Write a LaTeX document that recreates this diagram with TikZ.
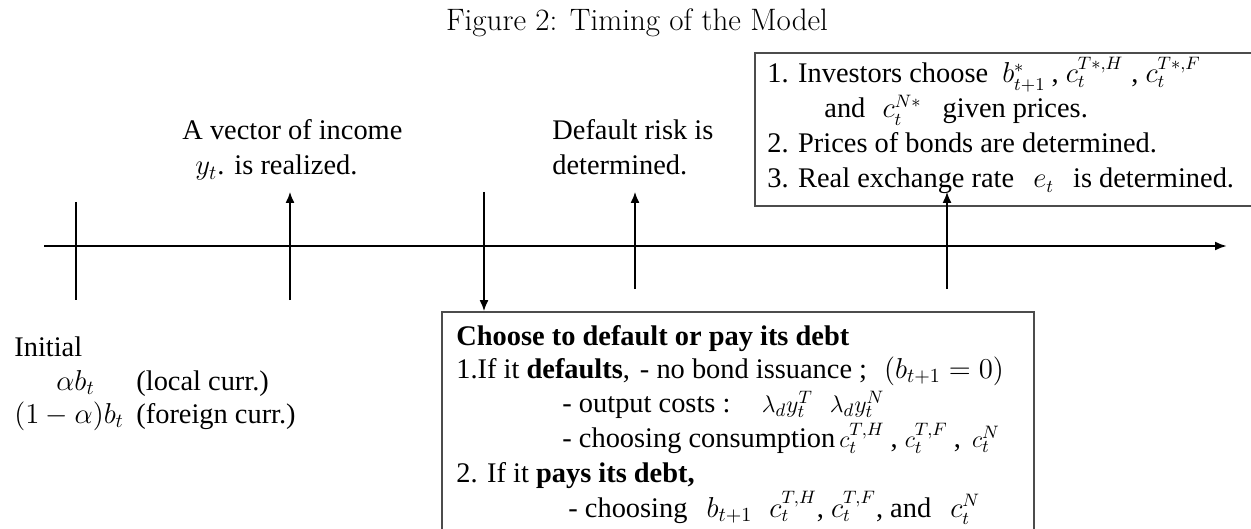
\documentclass[tikz,border=0pt]{standalone}
\usepackage{fontspec}
\newfontfamily\tnr{Liberation Serif}
\newcommand\formel[2][14.2]{{\fontsize{#1}{16}\selectfont$#2$}}
\newcommand\flach[1]{\smash{\formel[12.5]{#1}}}
\usetikzlibrary{arrows.meta}
\usetikzlibrary{positioning}
\tikzset{
	>={Latex[length=5.5pt,width=4.5pt]},
	zeitachse/.style={draw, line width=1.1pt, -{Latex[length=6pt,width=4.5pt]}},
	marke/.style={draw, line width=0.65pt},
	pfeil/.style={draw, line width=0.65pt, ->},
	kasten/.style={
		rectangle,
		draw=black!70, line width=0.9pt,
		anchor=north west,
		inner sep=0pt},
	zeile/.style={
		anchor=base west,
		inner sep=0pt,
		font=\tnr\fontsize{14.2}{17}\selectfont},
}

\begin{document}
\begin{tikzpicture}
	 		[x=0.5pt, y=-0.5pt]
	 		\useasboundingbox (0,0) rectangle (1251,529);
	 		\node[font=\fontsize{15.5}{18}\selectfont, anchor=base] (titel) at (637,31) {Figure 2: Timing of the Model};
	 		% boxes
	 		\node[kasten, minimum width=251pt, minimum height=76.5pt] (investoren) at (754,52) {};
	 		\node[kasten, minimum width=296pt, minimum height=115pt] (wahl) at (441,311) {};
	 		% axis and marks
	 		\coordinate (achsanfang) at (44,246);
	 		\coordinate (achsende) at (1227,246);
	 		\coordinate (start0) at (76,202);
	 		\coordinate (start1) at (76,300);
	 		\coordinate (einkommen0) at (290,300);
	 		\coordinate (einkommen1) at (290,192);
	 		\coordinate (wahl0) at (484,192);
	 		\coordinate (wahl1) at (484,311);
	 		\coordinate (risiko0) at (635,289);
	 		\coordinate (risiko1) at (635,192);
	 		\coordinate (preise0) at (947,289);
	 		\coordinate (preise1) at (947,192);
	 		\draw[zeitachse] (achsanfang) -- (achsende);
	 		\draw[marke] (start0) -- (start1);
	 		\draw[pfeil] (einkommen0) -- (einkommen1);
	 		\draw[pfeil] (wahl0) -- (wahl1);
	 		\draw[pfeil] (risiko0) -- (risiko1);
	 		\draw[pfeil] (preise0) -- (preise1);
	 		% labels above the axis
	 		\node[zeile] (einkommen) at (182,140) {A vector of income};
	 		\node[zeile] (realisiert) at (195,175) {\formel{y_t}.\hspace{5pt}is realized.};
	 		\node[zeile] (risiko) at (552,140) {Default risk is};
	 		\node[zeile] (bestimmt) at (552,175) {determined.};
	 		\node[zeile] (inv1) at (767,83) {1. Investors choose\hspace{7pt}\formel[13.5]{b^*_{t+1}}\hspace{3pt}, \formel[13.5]{c_t^{T*,H}}\hspace{4pt}, \formel[13.5]{c_t^{T*,F}}};
	 		\node[zeile] (inv2) at (824,118) {and\hspace{5pt} \formel[13.5]{c_t^{N*}}\hspace{7pt} given prices.};
	 		\node[zeile] (inv3) at (767,153) {2. Prices of bonds are determined.};
	 		\node[zeile] (inv4) at (767,188) {3. Real exchange rate\hspace{6pt} \formel[13.5]{e_t}\hspace{6pt} is determined.};
	 		% initial debt
	 		\node[zeile] (anfang) at (14,356) {Initial};
	 		\node[zeile] (lokal) at (56,390) {\formel{\alpha b_t}};
	 		\node[zeile] (lokaltext) at (136,390) {(local curr.)};
	 		\node[zeile] (fremd) at (14,423) {\formel{(1-\alpha)b_t}};
	 		\node[zeile] (fremdtext) at (136,423) {(foreign curr.)};
	 		% choice of the government
	 		\node[zeile] (wahl1t) at (456,345) {\textbf{Choose to default or pay its debt}};
	 		\node[zeile] (wahl2t) at (456,378) {1.If it \textbf{defaults},\hspace{5pt}- no bond issuance ;\hspace{5pt} \formel{(b_{t+1}=0)}};
	 		\node[zeile] (wahl3t) at (562,412) {- output costs :\hspace{11pt} \flach{\lambda_d y_t^T}\hspace{5pt} \flach{\lambda_d y_t^N}};
	 		\node[zeile] (wahl4t) at (562,447) {- choosing consumption\hspace{2pt}\flach{c_t^{T,H}}\hspace{3pt}, \flach{c_t^{T,F}}\hspace{3pt}, \hspace{2pt}\flach{c_t^N}};
	 		\node[zeile] (wahl5t) at (456,482) {2. If it \textbf{pays its debt,}};
	 		\node[zeile] (wahl6t) at (568,517) {- choosing\hspace{6pt} \formel{b_{t+1}}\hspace{5pt} \formel[13.5]{c_t^{T,H}}, \formel[13.5]{c_t^{T,F}}, and\hspace{6pt} \formel[13.5]{c_t^N}};
\end{tikzpicture}
\end{document}
